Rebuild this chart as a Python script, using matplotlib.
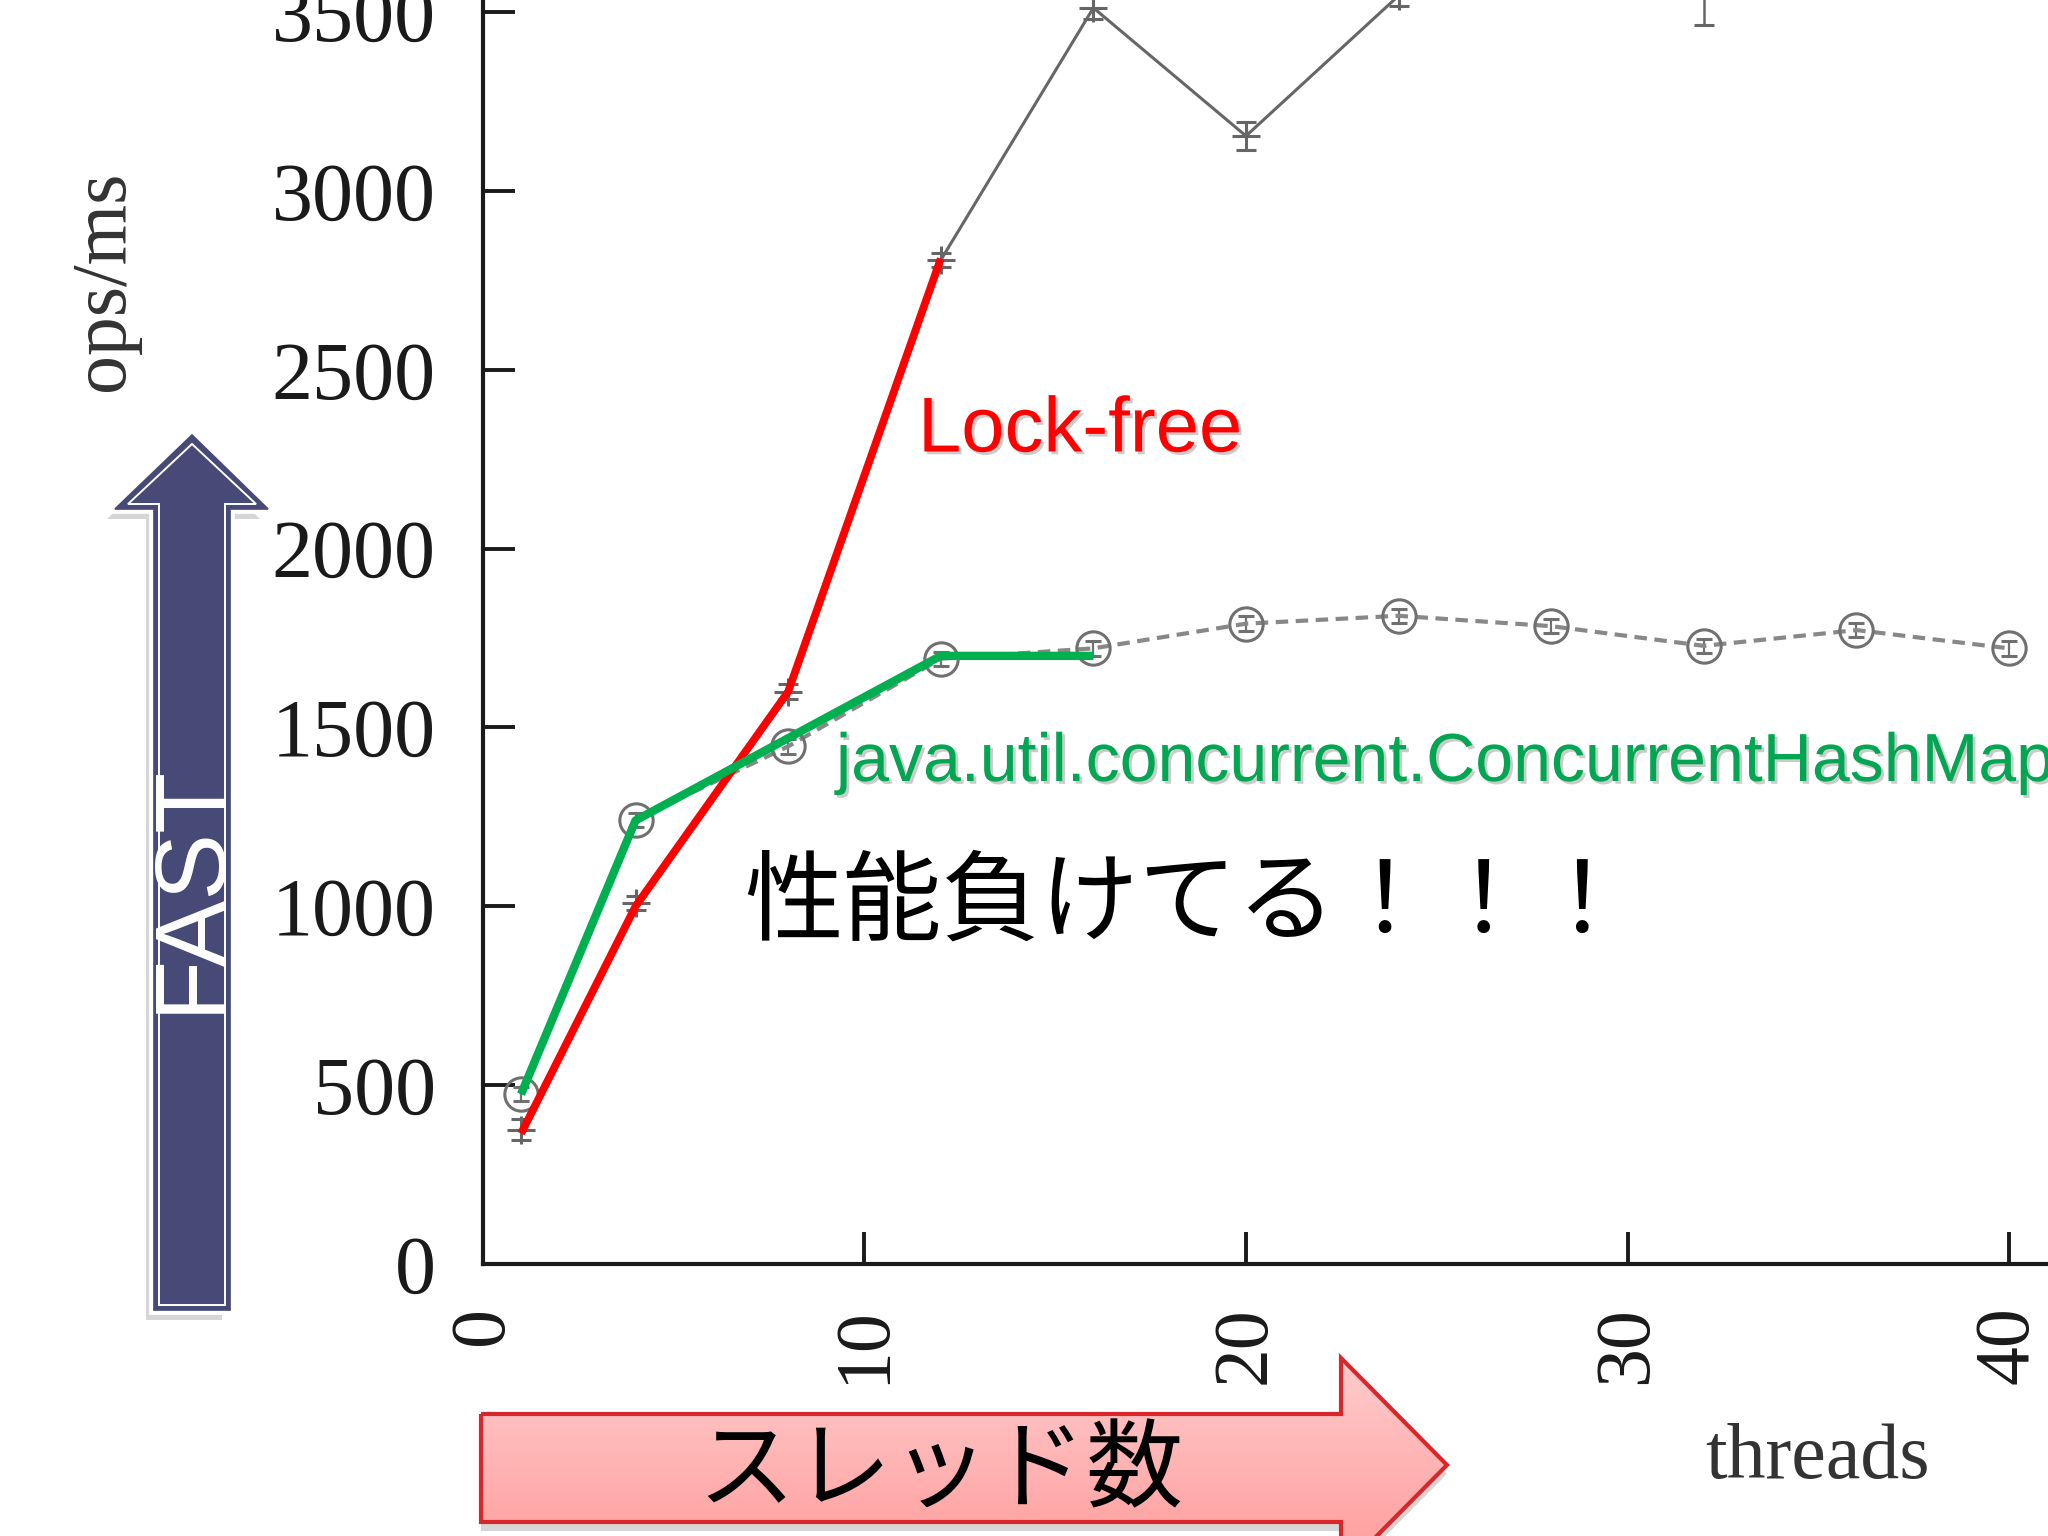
import numpy as np
import matplotlib
matplotlib.use("Agg")
import matplotlib.pyplot as plt
from matplotlib.patches import Polygon
import matplotlib.patheffects as pe

# datos
threads = [1, 4, 8, 12, 16, 20, 24, 28, 32, 36, 40]
lockfree_gray = [376, 1010, 1600, 2806, 3511, 3153, 3545, 3750, 3620, 3900, 4000]
lockfree_err = [30, 20, 20, 20, 30, 40, 30, 30, 156, 30, 30]
chm_gray = [475, 1242, 1447, 1692, 1721, 1790, 1812, 1783, 1728, 1772, 1721]
chm_err = [20, 20, 20, 20, 20, 20, 20, 20, 20, 20, 20]

# lineas dibujadas encima (rojo y verde)
red_x = [1, 4, 8, 12]
red_y = [365, 1000, 1600, 2810]
green_x = [1, 4, 12, 16]
green_y = [475, 1240, 1700, 1700]

y_ticks = [0, 500, 1000, 1500, 2000, 2500, 3000, 3500]
x_ticks = [0, 10, 20, 30, 40]

W, H = 2048, 1536
fig = plt.figure(figsize=(W / 100, H / 100), dpi=100)
fig.patch.set_facecolor("white")

ax = fig.add_axes([0.2358, 0.177, 0.7642, 0.823])
ax.set_xlim(0, 41.02)
ax.set_ylim(0, 3533)

# serie gris solida (lock-free original)
ax.errorbar(threads, lockfree_gray, yerr=lockfree_err, color="#666666", lw=2.2,
            marker="+", ms=20, mew=2.2, capsize=7, elinewidth=1.8)
# serie gris punteada (ConcurrentHashMap original)
ax.errorbar(threads, chm_gray, yerr=chm_err, color="#888888", lw=3.0, ls=(0, (3, 1.8)),
            marker="o", ms=24, mfc="none", mec="#707070", mew=2.2, capsize=6,
            elinewidth=1.6, ecolor="#707070")

ax.plot(red_x, red_y, color="#ff0000", lw=5.6, solid_capstyle="butt", zorder=6)
ax.plot(green_x, green_y, color="#00b050", lw=6.0, solid_capstyle="butt", zorder=7)

for s in ["top", "right"]:
    ax.spines[s].set_visible(False)
for s in ["left", "bottom"]:
    ax.spines[s].set_linewidth(3.0)
    ax.spines[s].set_color("#1a1a1a")

ax.set_yticks(y_ticks)
ax.set_xticks(x_ticks)
ax.set_xticklabels([str(v) for v in x_ticks], rotation=90)
ax.tick_params(axis="both", direction="in", length=23, width=2.8, color="#1a1a1a",
               labelcolor="#1a1a1a")
ax.tick_params(axis="y", pad=34, labelsize=59)
ax.tick_params(axis="x", pad=30, labelsize=56)
for lab in ax.get_xticklabels() + ax.get_yticklabels():
    lab.set_family("Liberation Serif")
ax.set_facecolor("none")

# textos
fig.text(104 / W, 1 - 281 / H, "ops/ms", rotation=90, ha="center", va="center",
         fontsize=56, family="Liberation Serif", color="#333333")
fig.text(1818 / W, 1 - 1459 / H, "threads", ha="center", va="center",
         fontsize=56, family="Liberation Serif", color="#333333")

shadow = [pe.withSimplePatchShadow(offset=(2, -2), shadow_rgbFace="#999999", alpha=0.5)]
fig.text(918 / W, 1 - 431 / H, "Lock-free", ha="left", va="center", fontsize=56,
         family="Liberation Sans", color="#ff0000", path_effects=shadow, zorder=10)
fig.text(836 / W, 1 - 781 / H, "java.util.concurrent.ConcurrentHashMap", ha="left",
         va="baseline", fontsize=49, family="Liberation Sans", color="#00a651",
         path_effects=shadow, zorder=10)
fig.text(744 / W, 1 - 905 / H, "性能負けてる！！！", ha="left", va="center",
         fontsize=71, family=["Noto Sans CJK JP", "DejaVu Sans"], color="black",
         zorder=10)

# capa en pixeles para las flechas
ov = fig.add_axes([0, 0, 1, 1], zorder=5)
ov.set_xlim(0, W)
ov.set_ylim(H, 0)
ov.axis("off")

# flecha FAST
navy = "#474a77"
fast = [(192, 435), (115, 509), (154, 509), (154, 1310), (230, 1310), (230, 509), (268, 509)]
fast_sh = [(x - 8, y + 10) for x, y in fast]
ov.add_patch(Polygon(fast_sh, closed=True, fc="#bbbbbb", ec="none", alpha=0.6))
ov.add_patch(Polygon(fast, closed=True, fc="white", ec="white", lw=7))
ov.add_patch(Polygon(fast, closed=True, fc=navy, ec=navy, lw=1.2))
fast_in = [(192, 444), (128, 504), (159, 504), (159, 1305), (225, 1305), (225, 504), (256, 504)]
ov.add_patch(Polygon(fast_in, closed=True, fc="none", ec="white", lw=1.4))
ov.text(192, 888, "FAST", rotation=90, ha="center", va="center", fontsize=72,
        family="Liberation Sans", color="white")

# flecha rosa (スレッド数)
pink = [(481, 1414), (1341, 1414), (1341, 1358), (1447, 1465), (1341, 1572),
        (1341, 1522), (481, 1522)]
pink_sh = [(x, y + 9) for x, y in pink]
ov.add_patch(Polygon(pink_sh, closed=True, fc="#bbbbbb", ec="none", alpha=0.6))
poly = Polygon(pink, closed=True, fc="none", ec="#d9262b", lw=3, zorder=3)
ov.add_patch(poly)
grad = np.linspace(0, 1, 256).reshape(-1, 1)
cmap = matplotlib.colors.LinearSegmentedColormap.from_list("p", ["#ffcccc", "#ff9a9a"])
im = ov.imshow(grad, cmap=cmap, aspect="auto", extent=(481, 1447, 1572, 1358), zorder=2)
im.set_clip_path(poly)
ov.set_xlim(0, W)
ov.set_ylim(H, 0)
ov.text(940, 1472, "スレッド数", ha="center", va="center", fontsize=70,
        family=["Noto Sans CJK JP", "DejaVu Sans"], color="black", zorder=4)

fig.savefig("out.png", dpi=100)
